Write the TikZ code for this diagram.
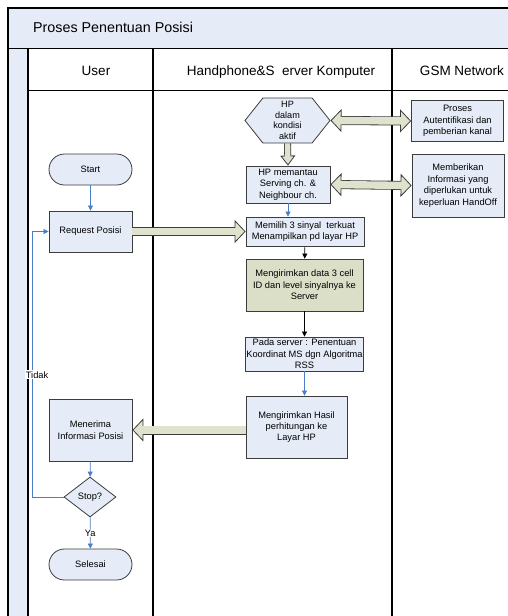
\documentclass[tikz,border=0pt]{standalone}
\usepackage{fontspec}
\setmainfont{Liberation Sans}
\usepackage{xcolor}
\usetikzlibrary{arrows.meta,shapes.geometric,shapes.symbols}

\definecolor{laneblue}{HTML}{E6ECF7}
\definecolor{boxblue}{HTML}{E5ECF7}
\definecolor{olivebox}{HTML}{DCDFC8}
\definecolor{arrfill}{HTML}{DFE2CC}
\definecolor{arrline}{HTML}{3C3C3C}
\definecolor{flowblue}{HTML}{4A7DC4}

\tikzset{
	fattip/.tip={Triangle[width=23pt,length=11pt,line width=0.8pt,fill=arrfill]},
	smalltip/.tip={Triangle[width=15pt,length=10pt,line width=0.8pt,fill=arrfill]},
	box/.style={draw=arrline, fill=boxblue, line width=0.8pt, align=center, inner sep=0.5pt,
		font=\fontsize{9.3}{11.4}\selectfont},
	term/.style={box, minimum width=83pt, minimum height=31pt, rounded corners=15.5pt},
	decide/.style={box, diamond, minimum width=52pt, minimum height=40pt, inner sep=0pt},
	hexa/.style={box, signal, signal to=west and east, signal pointer angle=103,
		minimum width=85pt, minimum height=45pt, inner sep=0pt,
		font=\fontsize{9.1}{10.6}\selectfont},
	flow/.style={draw=flowblue, line width=0.7pt, -{Triangle[width=5pt,length=5pt]}},
	flowdark/.style={draw=black, line width=0.7pt, -{Triangle[width=5pt,length=5pt]}},
	fat/.style={draw=arrline, line width=9pt, -fattip,
		postaction={draw=arrfill, line width=7.4pt, -, shorten >=8pt}},
	fatboth/.style={draw=arrline, line width=9pt, fattip-fattip,
		postaction={draw=arrfill, line width=7.4pt, -, shorten >=8pt, shorten <=8pt}},
	fatdown/.style={draw=arrline, line width=7pt, -smalltip,
		postaction={draw=arrfill, line width=5.4pt, -, shorten >=6pt}},
	lbl/.style={fill=white, inner sep=1pt, font=\fontsize{9.3}{11}\selectfont}
}

\begin{document}
\begin{tikzpicture}[x=1pt,y=-1pt]
	\useasboundingbox (0,0) rectangle (508,616);
	\clip (0,0) rectangle (508,616);

	% swimlanes
	\fill[laneblue] (8,8) rectangle (520,48);
	\fill[laneblue] (8,48) rectangle (28,620);
	\draw[line width=1.2pt] (8,620) -- (8,8) -- (520,8);
	\draw[line width=1pt] (8,48) -- (520,48);
	\draw[line width=1pt] (28,90) -- (520,90);
	\draw[line width=2pt] (28,48) -- (28,620);
	\draw[line width=1.2pt] (153,48) -- (153,620);
	\draw[line width=1.2pt] (392,48) -- (392,620);

	\node[anchor=base west, inner sep=0pt, font=\fontsize{14.3}{17}\selectfont] (title) at (33,32.5) {Proses Penentuan Posisi};
	\node[anchor=base, inner sep=0pt, font=\fontsize{13.5}{16}\selectfont] (user) at (96,75) {User};
	\node[anchor=base, inner sep=0pt, font=\fontsize{13.5}{16}\selectfont] (hpsrv) at (281,75) {Handphone\&S\ \ erver Komputer};
	\node[anchor=base, inner sep=0pt, font=\fontsize{13.5}{16}\selectfont] (gsm) at (462,75) {GSM Network};

	% user lane
	\node[term] (start) at (90.5,169.5) {Start};
	\node[box, minimum width=83pt, minimum height=41pt] (req) at (90.5,231.5) {Request Posisi};
	\node[box, minimum width=83pt, minimum height=62pt] (terima) at (90.5,430) {Menerima\\Informasi Posisi};
	\node[decide] (stop) at (90,497) {Stop?};
	\node[term] (selesai) at (90.5,564.5) {Selesai};

	% handphone & server lane
	\node[hexa] (hp) at (287.5,120.5) {HP\\dalam\\kondisi\\aktif};
	\node[box, minimum width=84pt, minimum height=37pt] (pantau) at (288,184.5) {HP memantau\\Serving ch. \&\\Neighbour ch.};
	\node[box, minimum width=118pt, minimum height=29pt] (pilih) at (305,231.5) {Memilih 3 sinyal\ \ terkuat\\Menampilkan pd layar HP};
	\node[box, fill=olivebox, minimum width=117pt, minimum height=52pt] (kirim) at (304.5,285) {Mengirimkan data 3 cell\\ID dan level sinyalnya ke\\Server};
	\node[box, inner xsep=0pt, minimum width=118pt, minimum height=34pt] (server) at (304.5,354) {Pada server : Penentuan\\Koordinat MS dgn Algoritma\\RSS};
	\node[box, minimum width=101pt, minimum height=62pt] (hasil) at (296.5,427) {Mengirimkan Hasil\\perhitungan ke\\Layar HP};

	% gsm lane
	\node[box, minimum width=92pt, minimum height=41pt] (proses) at (457.5,121) {Proses\\Autentifikasi dan\\pemberian kanal};
	\node[box, minimum width=92pt, minimum height=63pt] (beri) at (458,185.5) {Memberikan\\Informasi yang\\diperlukan untuk\\keperluan HandOff};

	\draw[fatboth] (hp.east) -- (proses.west);
	\draw[fatboth] (pantau.east) -- (beri.west);
	\draw[fatdown] (hp.south) -- (pantau.north);
	\draw[fat] (req.east) -- (pilih.west);
	\draw[fat] (hasil.west |- terima.east) -- (terima.east);

	\draw[flow] (start) -- (req);
	\draw[flow] (pantau.south) -- (pantau.south |- pilih.north);
	\draw[flowdark] (pilih) -- (kirim);
	\draw[flowdark] (kirim) -- (server);
	\draw[flow] (server.south) -- (server.south |- hasil.north);
	\draw[flow] (terima) -- (stop);
	\draw[flow] (stop) -- node[lbl] {Ya} (selesai);
	\draw[flow] (stop.west) -- ++(-31,0) |- node[lbl, pos=0.23, xshift=4.5pt] {Tidak} (req.west);
\end{tikzpicture}
\end{document}
